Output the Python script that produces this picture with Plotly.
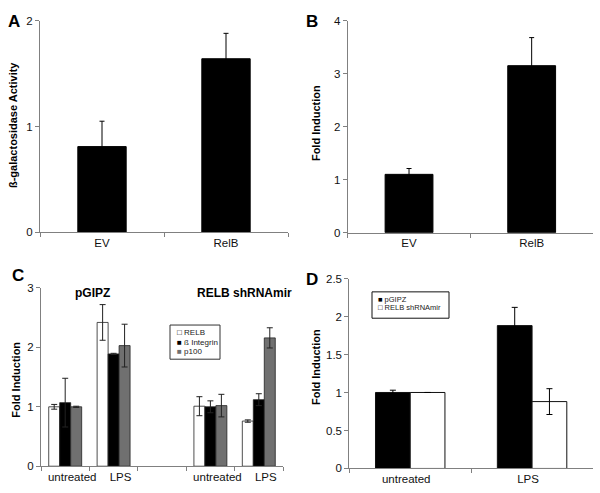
import plotly.graph_objects as go

# ---------------- data ----------------
# Panel A
a_categories = ["EV", "RelB"]
a_values = [0.81, 1.64]
a_errors = [0.24, 0.24]
a_ylabel = "ß-galactosidase Activity"

# Panel B
b_categories = ["EV", "RelB"]
b_values = [1.10, 3.15]
b_errors = [0.11, 0.53]
b_ylabel = "Fold Induction"

# Panel C
c_categories = ["pGIPZ untreated", "pGIPZ LPS", "spacer", "shRNA untreated", "shRNA LPS"]
c_tick_labels = ["untreated", "LPS", "", "untreated", "LPS"]
c_series = ["RELB", "ß Integrin", "p100"]
c_relb = [1.00, 2.42, None, 1.01, 0.76]
c_relb_err = [0.04, 0.30, None, 0.16, 0.02]
c_itg = [1.07, 1.89, None, 1.00, 1.12]
c_itg_err = [0.41, 0.01, None, 0.10, 0.10]
c_p100 = [1.00, 2.03, None, 1.02, 2.16]
c_p100_err = [0.01, 0.36, None, 0.19, 0.17]
c_group_titles = ["pGIPZ", "RELB shRNAmir"]
c_ylabel = "Fold Induction"

# Panel D
d_categories = ["untreated", "LPS"]
d_series = ["pGIPZ", "RELB shRNAmir"]
d_pgipz = [1.00, 1.88]
d_pgipz_err = [0.03, 0.24]
d_shrna = [1.00, 0.88]
d_shrna_err = [0.0, 0.17]
d_ylabel = "Fold Induction"

panel_letters = ["A", "B", "C", "D"]

# ---------------- style ----------------
W, H = 600, 493
FONT = "Arial, Liberation Sans, sans-serif"
AXIS_GRAY = "#808080"
GRAY_BAR = "#707070"
ERR_COL = "#000000"


def px(x):
    return x / W


def py(y):
    return 1 - y / H


fig = go.Figure()

# Panel A
fig.add_trace(go.Bar(x=a_categories, y=a_values, width=0.39,
                     marker=dict(color="black", line=dict(color="black", width=1)),
                     error_y=dict(type="data", array=a_errors, color=ERR_COL, thickness=1, width=2.5),
                     xaxis="x", yaxis="y", showlegend=False))
# Panel B
fig.add_trace(go.Bar(x=b_categories, y=b_values, width=0.39,
                     marker=dict(color="black", line=dict(color="black", width=1)),
                     error_y=dict(type="data", array=b_errors, color=ERR_COL, thickness=1, width=2.5),
                     xaxis="x2", yaxis="y2", showlegend=False))
# Panel C
c_colors = ["white", "black", GRAY_BAR]
c_vals = [c_relb, c_itg, c_p100]
c_errs = [c_relb_err, c_itg_err, c_p100_err]
cw = 0.227
for i, (name, vals, errs, col) in enumerate(zip(c_series, c_vals, c_errs, c_colors)):
    fig.add_trace(go.Bar(x=c_categories, y=vals, name=name, width=cw, offset=-1.5 * cw + i * cw,
                         marker=dict(color=col, line=dict(color="#222222", width=0.8)),
                         error_y=dict(type="data", array=errs, color="#222222", thickness=1, width=3),
                         xaxis="x3", yaxis="y3", showlegend=False))
# Panel D
d_colors = ["black", "white"]
d_vals = [d_pgipz, d_shrna]
d_errs = [d_pgipz_err, d_shrna_err]
dw = 0.285
for i, (name, vals, errs, col) in enumerate(zip(d_series, d_vals, d_errs, d_colors)):
    fig.add_trace(go.Bar(x=d_categories, y=vals, name=name, width=dw, offset=-dw + i * dw,
                         marker=dict(color=col, line=dict(color="#111111", width=1)),
                         error_y=dict(type="data", array=errs, color=ERR_COL, thickness=1, width=3),
                         xaxis="x4", yaxis="y4", showlegend=False))

tickfont = dict(family=FONT, size=11.5, color="#111111")


def xax(domain, anchor, **kw):
    d = dict(domain=domain, anchor=anchor, type="category", showline=True, linecolor=AXIS_GRAY,
             linewidth=1, ticks="outside", ticklen=4, tickcolor=AXIS_GRAY, tickson="boundaries",
             showgrid=False, zeroline=False, tickfont=tickfont, fixedrange=True, tickangle=0)
    d.update(kw)
    return d


def yax(domain, anchor, rng, dtick, **kw):
    d = dict(domain=domain, anchor=anchor, range=rng, dtick=dtick, showline=True, linecolor=AXIS_GRAY,
             linewidth=1, ticks="outside", ticklen=4, tickcolor=AXIS_GRAY, showgrid=False,
             zeroline=False, tickfont=tickfont, fixedrange=True)
    d.update(kw)
    return d


fig.update_layout(
    width=W, height=H, margin=dict(l=0, r=0, t=0, b=0),
    paper_bgcolor="white", plot_bgcolor="white", barmode="overlay",
    font=dict(family=FONT, color="black"),
    xaxis=xax([px(40), px(288)], "y", range=[-0.5, 1.5]),
    yaxis=yax([py(232), py(15)], "x", [0, 2], 1),
    xaxis2=xax([px(347.7), px(593)], "y2", range=[-0.5, 1.5]),
    yaxis2=yax([py(232.3), py(15)], "x2", [0, 4], 1),
    xaxis3=xax([px(41), px(283)], "y3", range=[-0.5, 4.5], tickmode="array",
               tickvals=c_categories, ticktext=c_tick_labels, ticklabelshift=7,
               categoryorder="array", categoryarray=c_categories),
    yaxis3=yax([py(471.7), py(289)], "x3", [0, 3], 1),
    xaxis4=xax([px(349.3), px(593)], "y4", range=[-0.5, 1.5], ticklabelshift=-4),
    yaxis4=yax([py(474), py(279.3)], "x4", [0, 2.5], 0.5),
)

ann = []
# panel letters
for letter, (x, y) in zip(panel_letters, [(14, 16), (312, 16), (18, 276), (312, 280)]):
    ann.append(dict(text=f"<b>{letter}</b>", x=px(x), y=py(y), xref="paper", yref="paper",
                    showarrow=False, font=dict(family=FONT, size=17, color="black"),
                    xanchor="center", yanchor="middle"))
# y-axis titles
for label, (x, y) in zip([a_ylabel, b_ylabel, c_ylabel, d_ylabel],
                         [(13, 122), (316, 120), (16, 383), (316, 370)]):
    ann.append(dict(text=f"<b>{label}</b>", x=px(x), y=py(y), xref="paper", yref="paper",
                    showarrow=False, textangle=-90, font=dict(family=FONT, size=11, color="black"),
                    xanchor="center", yanchor="middle"))
# panel C group titles
for t, x in zip(c_group_titles, [92, 244]):
    ann.append(dict(text=f"<b>{t}</b>", x=px(x), y=py(294), xref="paper", yref="paper",
                    showarrow=False, font=dict(family=FONT, size=12, color="black"),
                    xanchor="center", yanchor="middle"))

# legend-like keys (panel C)
c_symbols = ['<span style="color:#000">□</span>', '<span style="color:#000">■</span>',
             f'<span style="color:{GRAY_BAR}">■</span>']
for i, (sym, name) in enumerate(zip(c_symbols, c_series)):
    ann.append(dict(text=f"{sym} {name}", x=px(175), y=py(335 + i * 9.8), xref="paper", yref="paper",
                    showarrow=False, font=dict(family=FONT, size=8, color="#222"),
                    xanchor="left", yanchor="middle"))
# legend-like keys (panel D)
d_symbols = ['<span style="color:#000">■</span>', '<span style="color:#000">□</span>']
for i, (sym, name) in enumerate(zip(d_symbols, d_series)):
    ann.append(dict(text=f"{sym} {name}", x=px(376), y=py(301 + i * 8.5), xref="paper", yref="paper",
                    showarrow=False, font=dict(family=FONT, size=7.5, color="#222"),
                    xanchor="left", yanchor="middle"))
fig.update_layout(annotations=ann)

shapes = [
    dict(type="rect", xref="paper", yref="paper", x0=px(170), x1=px(220), y0=py(362), y1=py(327),
         line=dict(color="#333", width=1), fillcolor="rgba(0,0,0,0)"),
    dict(type="rect", xref="paper", yref="paper", x0=px(372), x1=px(449), y0=py(320), y1=py(293),
         line=dict(color="#111", width=1), fillcolor="rgba(0,0,0,0)"),
]
fig.update_layout(shapes=shapes)

fig.write_html("out.html", config={"displayModeBar": False},
               post_script="document.body.style.margin='0px';document.body.style.overflow='hidden';")
